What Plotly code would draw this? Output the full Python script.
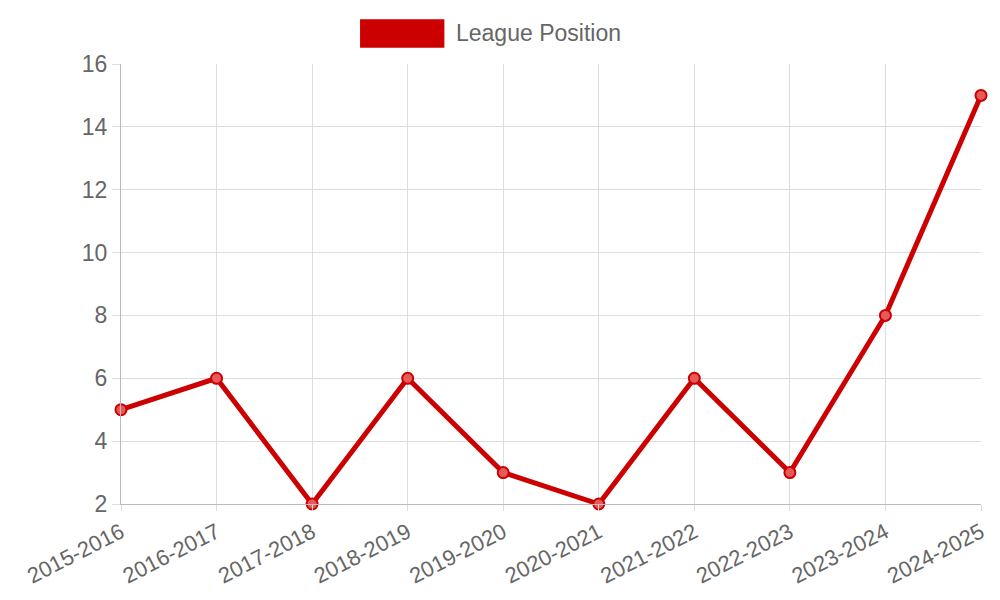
import plotly.graph_objects as go

seasons = ["2015-2016","2016-2017","2017-2018","2018-2019","2019-2020","2020-2021","2021-2022","2022-2023","2023-2024","2024-2025"]
positions = [5,6,2,6,3,2,6,3,8,15]

fig = go.Figure(go.Scatter(
    x=seasons, y=positions, mode="lines+markers", name="League Position",
    line=dict(color="#cc0000", width=5),
    marker=dict(size=11, color="rgba(230,90,90,1)", line=dict(color="#cc0000", width=2)),
    cliponaxis=False, showlegend=False))

grid = "#dddddd"
fig.update_layout(
    width=992, height=592, plot_bgcolor="white", paper_bgcolor="white",
    margin=dict(l=113, r=12, t=56, b=75),
    font=dict(family="Liberation Sans, Arial", color="#666666"),
    xaxis=dict(range=[0, 9], showgrid=True, gridcolor=grid, tickangle=-27,
               tickfont=dict(size=22), showline=True, linecolor="#bbbbbb",
               ticks="outside", ticklen=6, tickcolor=grid, zeroline=False),
    yaxis=dict(range=[2, 16], dtick=2, showgrid=True, gridcolor=grid,
               tickfont=dict(size=23), showline=True, linecolor="#bbbbbb",
               ticks="outside", ticklen=8, tickcolor=grid, zeroline=False),
    shapes=[dict(type="rect", xref="paper", yref="paper", x0=(362-121)/867, x1=(447-121)/867,
                 y0=1+(64-47)/461, y1=1+(64-17)/461, fillcolor="#cc0000", line=dict(width=0))],
    annotations=[dict(text="League Position", xref="paper", yref="paper",
                      x=(457-121)/867, y=1+(64-32)/461, xanchor="left", yanchor="middle",
                      showarrow=False, font=dict(size=23, color="#666666"))],
)
fig.write_html("out.html")
